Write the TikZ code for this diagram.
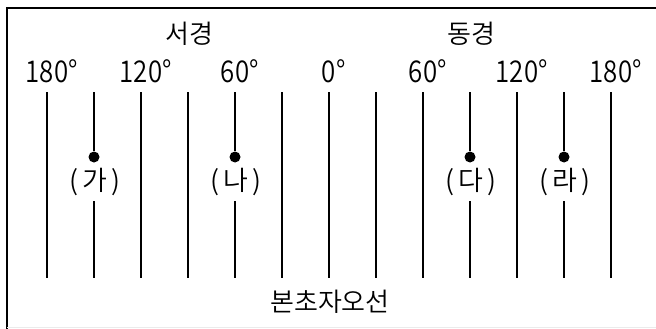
\documentclass[tikz,border=0pt]{standalone}
\usepackage{fontspec}
\setmainfont{Noto Sans CJK KR}[UprightFont={* DemiLight}]

\newcommand{\lon}[1]{\scalebox{0.86}[1]{#1}\rlap{\scalebox{0.86}[1]{°}}}

\begin{document}
\begin{tikzpicture}[x=1pt,y=-1pt]

        \useasboundingbox (0,0) rectangle (656,329);

        % frame
        \draw[line width=2pt] (7,329) -- (7,8) -- (656,8);
        \draw[black!8] (7,327.5) -- (656,327.5);

        \coordinate (top) at (0,92);
        \coordinate (bot) at (0,278);

        \begin{scope}[every node/.style={inner sep=0pt, anchor=base, font=\fontsize{26}{30}\selectfont}]
          \node (west) at (189,44) {서경};
          \node (east) at (471,44) {동경};
          \node (pm)   at (330,311) {본초자오선};
        \end{scope}

        \begin{scope}[every node/.style={inner sep=0pt, anchor=base, text depth=11pt,
            font=\fontsize{27}{31}\selectfont}]
          \node (ga) at (95,190)  {(\hspace{4pt}가\hspace{4pt})};
          \node (na) at (236,190) {(\hspace{4pt}나\hspace{4pt})};
          \node (da) at (471,190) {(\hspace{4pt}다\hspace{4pt})};
          \node (ra) at (565,190) {(\hspace{4pt}라\hspace{4pt})};
        \end{scope}

        \begin{scope}[every node/.style={inner sep=0pt, anchor=base, font=\fontsize{30}{34}\selectfont}]
          \node (w180) at (47,82)  {\lon{180}};
          \node (w120) at (141,82) {\lon{120}};
          \node (w60)  at (235,82) {\lon{60}};
          \node (zero) at (329,82) {\lon{0}};
          \node (e60)  at (423,82) {\lon{60}};
          \node (e120) at (517,82) {\lon{120}};
          \node (e180) at (611,82) {\lon{180}};
        \end{scope}

        \begin{scope}[every node/.style={circle, fill, inner sep=0pt, minimum size=11pt}]
          \node (ga dot) at (94,157)  {};
          \node (na dot) at (235,157) {};
          \node (da dot) at (470,157) {};
          \node (ra dot) at (564,157) {};
        \end{scope}

        \begin{scope}[line width=2pt]
          \foreach \x in {47,141,188,282,329,376,423,517,611}
            \draw (\x,92) -- (\x,278);
          \foreach \n in {ga,na,da,ra} {
            \draw (\n\space dot.center |- top) -- (\n\space dot);
            \draw (\n\space dot.center |- \n.south) -- (\n\space dot.center |- bot);
          }
        \end{scope}

      \end{tikzpicture}
\end{document}
